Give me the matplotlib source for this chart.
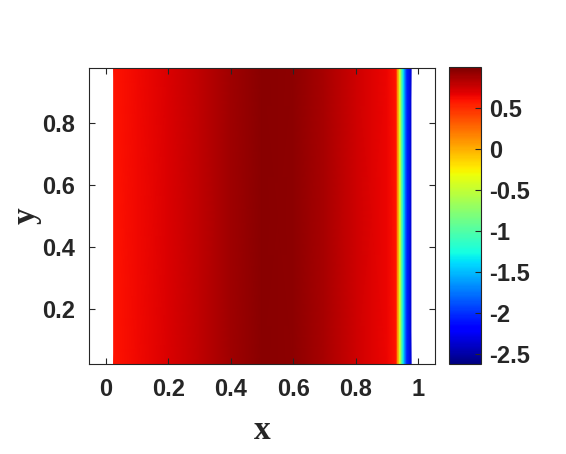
import numpy as np
import matplotlib
matplotlib.use("Agg")
import matplotlib.pyplot as plt
from matplotlib.ticker import FormatStrFormatter

plt.rcParams['axes.unicode_minus'] = False

# Field varies only along x
x_nodes = [0.0244, 0.1, 0.2, 0.3, 0.4, 0.5, 0.6, 0.7, 0.8, 0.9, 0.929,
           0.935, 0.941, 0.947, 0.953, 0.959, 0.965, 0.977]
u_nodes = [0.60, 0.64, 0.71, 0.80, 0.90, 0.97, 0.95, 0.86, 0.75, 0.65, 0.60,
           0.1, -0.4, -0.9, -1.35, -1.75, -2.05, -2.35]
y_nodes = [0.0244, 0.9756]

x_ticks = [0, 0.2, 0.4, 0.6, 0.8, 1]
y_ticks = [0.2, 0.4, 0.6, 0.8]
cb_ticks = [0.5, 0, -0.5, -1, -1.5, -2, -2.5]

X, Y = np.meshgrid(x_nodes, y_nodes)
U = np.tile(u_nodes, (len(y_nodes), 1))

fig = plt.figure(figsize=(5.66, 4.54), dpi=100)
ax = fig.add_axes([0.157, 0.198, 0.612, 0.652])
cax = fig.add_axes([0.793, 0.198, 0.057, 0.654])

mesh = ax.pcolormesh(X, Y, U, cmap='jet', shading='gouraud', vmin=-2.62, vmax=1.0)
ax.set_xlim(-0.055, 1.055)
ax.set_ylim(0.0244, 0.9756)

dark = '#262626'
ax.set_xticks(x_ticks)
ax.set_yticks(y_ticks)
ax.xaxis.set_major_formatter(FormatStrFormatter('%g'))
ax.yaxis.set_major_formatter(FormatStrFormatter('%g'))
for lab in ax.get_xticklabels() + ax.get_yticklabels():
    lab.set_family('Liberation Sans')
    lab.set_weight('bold')
    lab.set_size(17)
    lab.set_color(dark)
ax.tick_params(direction='in', top=True, right=True, length=4, width=0.8,
               color=dark, pad=10)
for s in ax.spines.values():
    s.set_color(dark)
    s.set_linewidth(0.8)

ax.set_xlabel('x', family='Liberation Serif', weight='bold', size=24, color=dark, labelpad=10)
ax.set_ylabel('y', family='Liberation Serif', weight='bold', size=24, color=dark, labelpad=0)

cb = fig.colorbar(mesh, cax=cax, ticks=cb_ticks)
cb.ax.yaxis.set_major_formatter(FormatStrFormatter('%g'))
cb.ax.tick_params(direction='in', length=4, width=0.8, color=dark, pad=6)
for lab in cb.ax.get_yticklabels():
    lab.set_family('Liberation Sans')
    lab.set_weight('bold')
    lab.set_size(17)
    lab.set_color(dark)
cb.outline.set_edgecolor(dark)
cb.outline.set_linewidth(0.8)

fig.savefig('out.png', dpi=100)
